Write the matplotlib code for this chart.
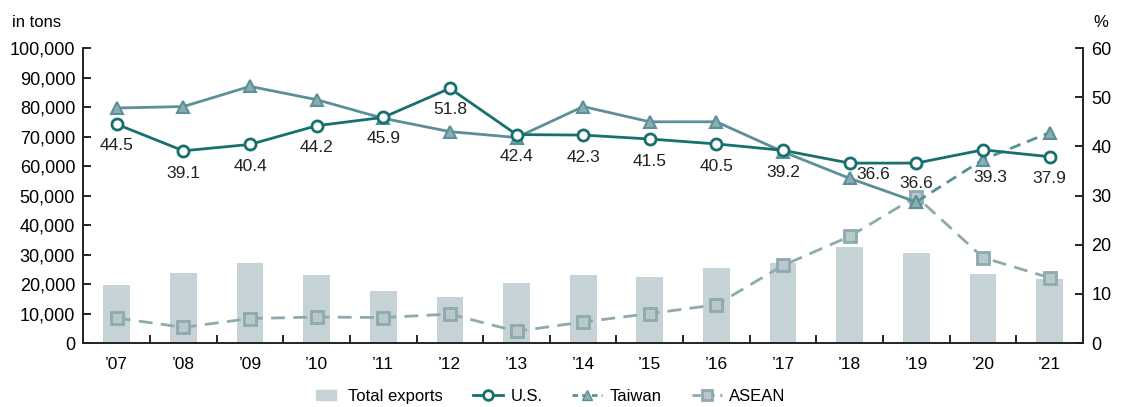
import matplotlib
matplotlib.use("Agg")
import matplotlib.pyplot as plt
from matplotlib.lines import Line2D

plt.rcParams['font.family'] = ['Liberation Sans', 'DejaVu Sans']

years = ["’07", "’08", "’09", "’10", "’11", "’12", "’13", "’14",
         "’15", "’16", "’17", "’18", "’19", "’20", "’21"]
total_exports = [19800, 23800, 27200, 23200, 17800, 15700, 20400, 23200,
                 22500, 25500, 27300, 32600, 30600, 23500, 21800]
us_share = [44.5, 39.1, 40.4, 44.2, 45.9, 51.8, 42.4, 42.3,
            41.5, 40.5, 39.2, 36.6, 36.6, 39.3, 37.9]
taiwan_share = [47.8, 48.1, 52.2, 49.5, 45.7, 43.0, 41.8, 48.1,
                45.0, 45.0, 38.9, 33.5, 28.7, 37.3, 42.8]
asean_share = [5.1, 3.2, 5.0, 5.3, 5.2, 5.9, 2.4, 4.3,
               6.0, 7.8, 15.8, 21.7, 29.8, 17.4, 13.3]

# label offsets in points (dx, dy) for U.S. values
label_offsets = [(0, -15), (0, -16), (0, -16), (0, -16), (0, -15), (0, -15),
                 (0, -16), (0, -16), (0, -16), (0, -16), (0, -16), (17, -8),
                 (0, -15), (5, -20), (0, -16)]

bar_color = "#c5d2d6"
us_color = "#17706f"
tw_color = "#5b9098"
as_color = "#8eaaae"

fig = plt.figure(figsize=(11.28, 4.07), dpi=100)
ax = fig.add_axes([0.074, 0.157, 0.886, 0.725])
ax2 = ax.twinx()

x = list(range(len(years)))
ax.bar(x, total_exports, width=0.4, color=bar_color, zorder=1)
ax.set_xlim(-0.5, len(years) - 0.5)
ax.set_ylim(0, 100000)
ax.set_yticks(range(0, 100001, 10000))
ax.set_yticklabels([f"{v:,}" for v in range(0, 100001, 10000)])
ax2.set_ylim(0, 60)
ax2.set_yticks(range(0, 61, 10))

ax.set_xticks(x)
ax.set_xticklabels(years)
ax.set_xticks([i + 0.5 for i in x[:-1]], minor=True)
ax.tick_params(axis='x', which='major', length=0, pad=10, labelsize=12.5)
ax.tick_params(axis='x', which='minor', direction='in', length=6, width=1.2)
ax.tick_params(axis='y', direction='in', length=6, width=1.2, labelsize=13, pad=6)
ax2.tick_params(axis='y', direction='in', length=6, width=1.2, labelsize=13, pad=6)

for a in (ax, ax2):
    a.spines['top'].set_visible(False)
    for s in ('left', 'right', 'bottom'):
        a.spines[s].set_linewidth(1.2)
        a.spines[s].set_color("#222222")

# ASEAN
ax2.plot(x, asean_share, color=as_color, lw=2, ls=(0, (5, 3)),
         marker='s', ms=8, mfc="#b8c8cb", mec=as_color, mew=2, zorder=3)
# Taiwan: solid up to '19, dashed after
ax2.plot(x[:13], taiwan_share[:13], color=tw_color, lw=2,
         marker='^', ms=8.5, mfc="#8aadb2", mec=tw_color, mew=1.5, zorder=4)
ax2.plot(x[12:], taiwan_share[12:], color=tw_color, lw=2, ls=(0, (4, 2.5)),
         marker='^', ms=8.5, mfc="#8aadb2", mec=tw_color, mew=1.5, zorder=4)
# U.S.
ax2.plot(x, us_share, color=us_color, lw=2,
         marker='o', ms=8, mfc="white", mec=us_color, mew=2, zorder=5)

for xi, v, (dx, dy) in zip(x, us_share, label_offsets):
    ax2.annotate(f"{v}", (xi, v), xytext=(dx, dy), textcoords='offset points',
                 ha='center', va='center', fontsize=12.5, color="#222222", zorder=6)

fig.text(0.011, 0.945, "in tons", fontsize=12, ha='left', va='center')
fig.text(0.976, 0.945, "%", fontsize=12, ha='center', va='center')

rect = [(-1, -0.45), (1, -0.45), (1, 0.45), (-1, 0.45), (-1, -0.45)]
handles = [
    Line2D([], [], lw=0, marker=rect, ms=15, mfc=bar_color, mec=bar_color),
    Line2D([], [], color=us_color, lw=2, marker='o', ms=7, mfc='white', mec=us_color, mew=2),
    Line2D([], [], color=tw_color, lw=2, ls=(0, (2, 1.5)), marker='^', ms=7,
           mfc="#8aadb2", mec=tw_color),
    Line2D([], [], color=as_color, lw=2, ls=(0, (3, 2)), marker='s', ms=7,
           mfc="#b8c8cb", mec=as_color, mew=2),
]
fig.legend(handles, ["Total exports", "U.S.", "Taiwan", "ASEAN"],
           loc='center', bbox_to_anchor=(0.486, 0.025), ncol=4, frameon=False,
           fontsize=12, handlelength=1.8, columnspacing=1.8, handletextpad=0.45)

fig.savefig("out.png", dpi=100)
